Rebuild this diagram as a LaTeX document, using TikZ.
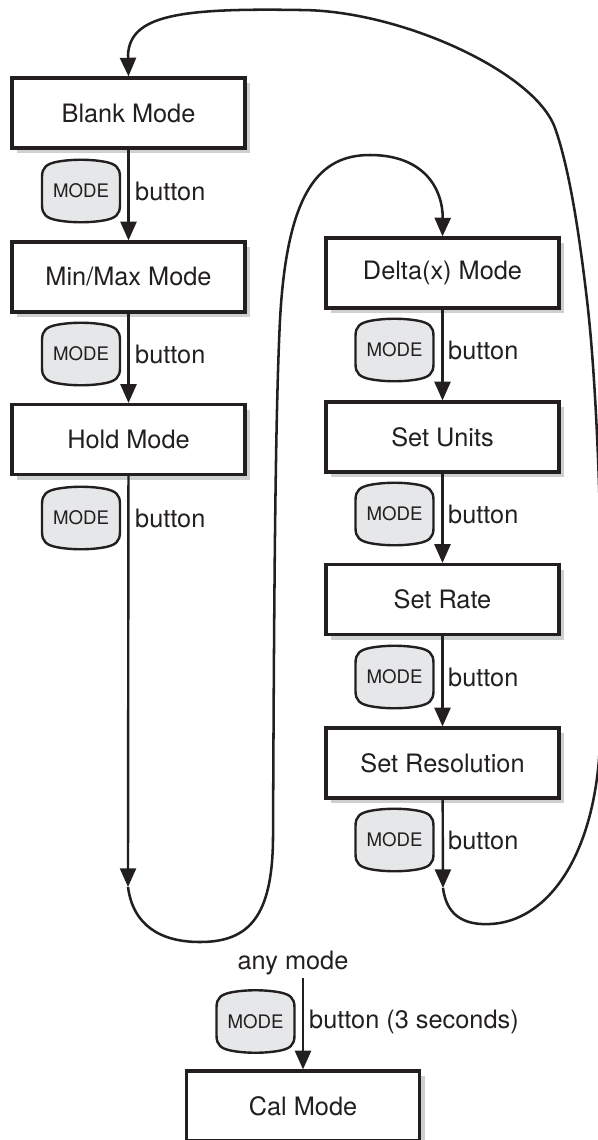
\documentclass[tikz,border=0pt]{standalone}
\usepackage{fontspec}
\setmainfont{TeX Gyre Heros}
\usetikzlibrary{arrows.meta,shadows}

\definecolor{inkblack}{RGB}{35,31,32}
\definecolor{btngray}{RGB}{230,231,232}
\definecolor{shadowgray}{RGB}{205,207,208}

\tikzset{every picture/.style={line width=1.8pt}}
\tikzset{
  modebox/.style={draw=inkblack, line width=2.4pt, fill=white, inner sep=0pt,
    minimum width=174.75pt, minimum height=52.5pt, text=inkblack,
    font=\fontsize{19}{22}\selectfont,
    general shadow={draw=none, fill=shadowgray, shadow xshift=4pt, shadow yshift=-4pt}},
  flow/.style={draw=inkblack, line width=1.8pt, -{Triangle[width=12pt,length=14pt]}},
  loopline/.style={draw=inkblack, line width=1.9pt},
  lbl/.style={font=\fontsize{19}{22}\selectfont, text=inkblack, inner sep=0pt},
  modebtn/.pic={
    %Shape: Button
    \draw[draw=inkblack, fill=btngray, line width=1.8pt] (-39,-14) .. controls (-39,-24) and (-34,-27) .. (-25,-29)
      .. controls (-10,-32) and (10,-32) .. (25,-29) .. controls (34,-27) and (39,-24) .. (39,-14)
      -- (39,14) .. controls (39,24) and (34,27) .. (25,29) .. controls (10,32) and (-10,32) .. (-25,29)
      .. controls (-34,27) and (-39,24) .. (-39,14) -- cycle ;
    % Text Node
    \node[font=\fontsize{14}{16}\selectfont, text=inkblack, inner sep=0pt] (-t) at (0,0) {MODE};
  }
}

\begin{document}
\begin{tikzpicture}[x=0.75pt,y=0.75pt,yscale=-1]
\useasboundingbox (0,0) rectangle (598,1140);

% left column
\node[modebox] (blank) at (128.5,113) {Blank Mode};
\node[modebox] (minmax) at (128.5,277) {Min/Max Mode};
\node[modebox] (hold) at (128.5,439.5) {Hold Mode};

% right column
\node[modebox] (delta) at (442.5,273) {Delta(x) Mode};
\node[modebox] (units) at (442.5,437) {Set Units};
\node[modebox] (rate) at (442.5,599.5) {Set Rate};
\node[modebox] (resol) at (442.5,763) {Set Resolution};

% bottom
\node[modebox] (cal) at (303,1106) {Cal Mode};
\node[lbl] (anymode) at (293,963) {any mode};

\coordinate (holdend) at (128,887);
\coordinate (resend) at (443,888);
\coordinate (calstart) at (303,978);

% arrows
\draw[flow] (blank) -- (minmax);
\draw[flow] (minmax) -- (hold);
\draw[flow] (hold) -- (holdend);
\draw[flow] (delta) -- (units);
\draw[flow] (units) -- (rate);
\draw[flow] (rate) -- (resol);
\draw[flow] (resol) -- (resend);
\draw[flow] (calstart) -- (cal);

% loop from Hold Mode to Delta(x) Mode
\draw[loopline, -{Triangle[width=12pt,length=14pt]}] (holdend)
  .. controls (133,925) and (160,942) .. (200,942)
  .. controls (250,942) and (272,915) .. (273,840)
  .. controls (274,620) and (275,420) .. (280,320)
  .. controls (287,190) and (320,155) .. (370,155)
  .. controls (425,155) and (443,190) .. (delta.north) ;

% loop from Set Resolution back to Blank Mode
\draw[loopline, -{Triangle[width=12pt,length=14pt]}] (resend)
  .. controls (447,920) and (470,925) .. (490,924)
  .. controls (545,922) and (595,860) .. (600,743)
  .. controls (604,640) and (601,420) .. (587,300)
  .. controls (580,240) and (570,170) .. (555,128)
  .. controls (535,72) and (400,10) .. (300,10)
  .. controls (180,8) and (130,15) .. (128,55)
  -- (blank.north) ;

% buttons
\pic (btn1) at (81,191) {modebtn};
\pic (btn2) at (81,354) {modebtn};
\pic (btn3) at (81,518) {modebtn};
\pic (btn4) at (394.5,350) {modebtn};
\pic (btn5) at (394.5,514) {modebtn};
\pic (btn6) at (394.5,677) {modebtn};
\pic (btn7) at (394.5,840) {modebtn};
\pic (btn8) at (255.5,1021.5) {modebtn};

% Text Node
\node[lbl, anchor=west] (lb1) at (134,191) {button};
\node[lbl, anchor=west] (lb2) at (134,354) {button};
\node[lbl, anchor=west] (lb3) at (134,518) {button};
\node[lbl, anchor=west] (lb4) at (447,350) {button};
\node[lbl, anchor=west] (lb5) at (447,514) {button};
\node[lbl, anchor=west] (lb6) at (447,677) {button};
\node[lbl, anchor=west] (lb7) at (447,840) {button};
\node[lbl, anchor=west] (lb8) at (308,1021.5) {button (3 seconds)};

\end{tikzpicture}
\end{document}
